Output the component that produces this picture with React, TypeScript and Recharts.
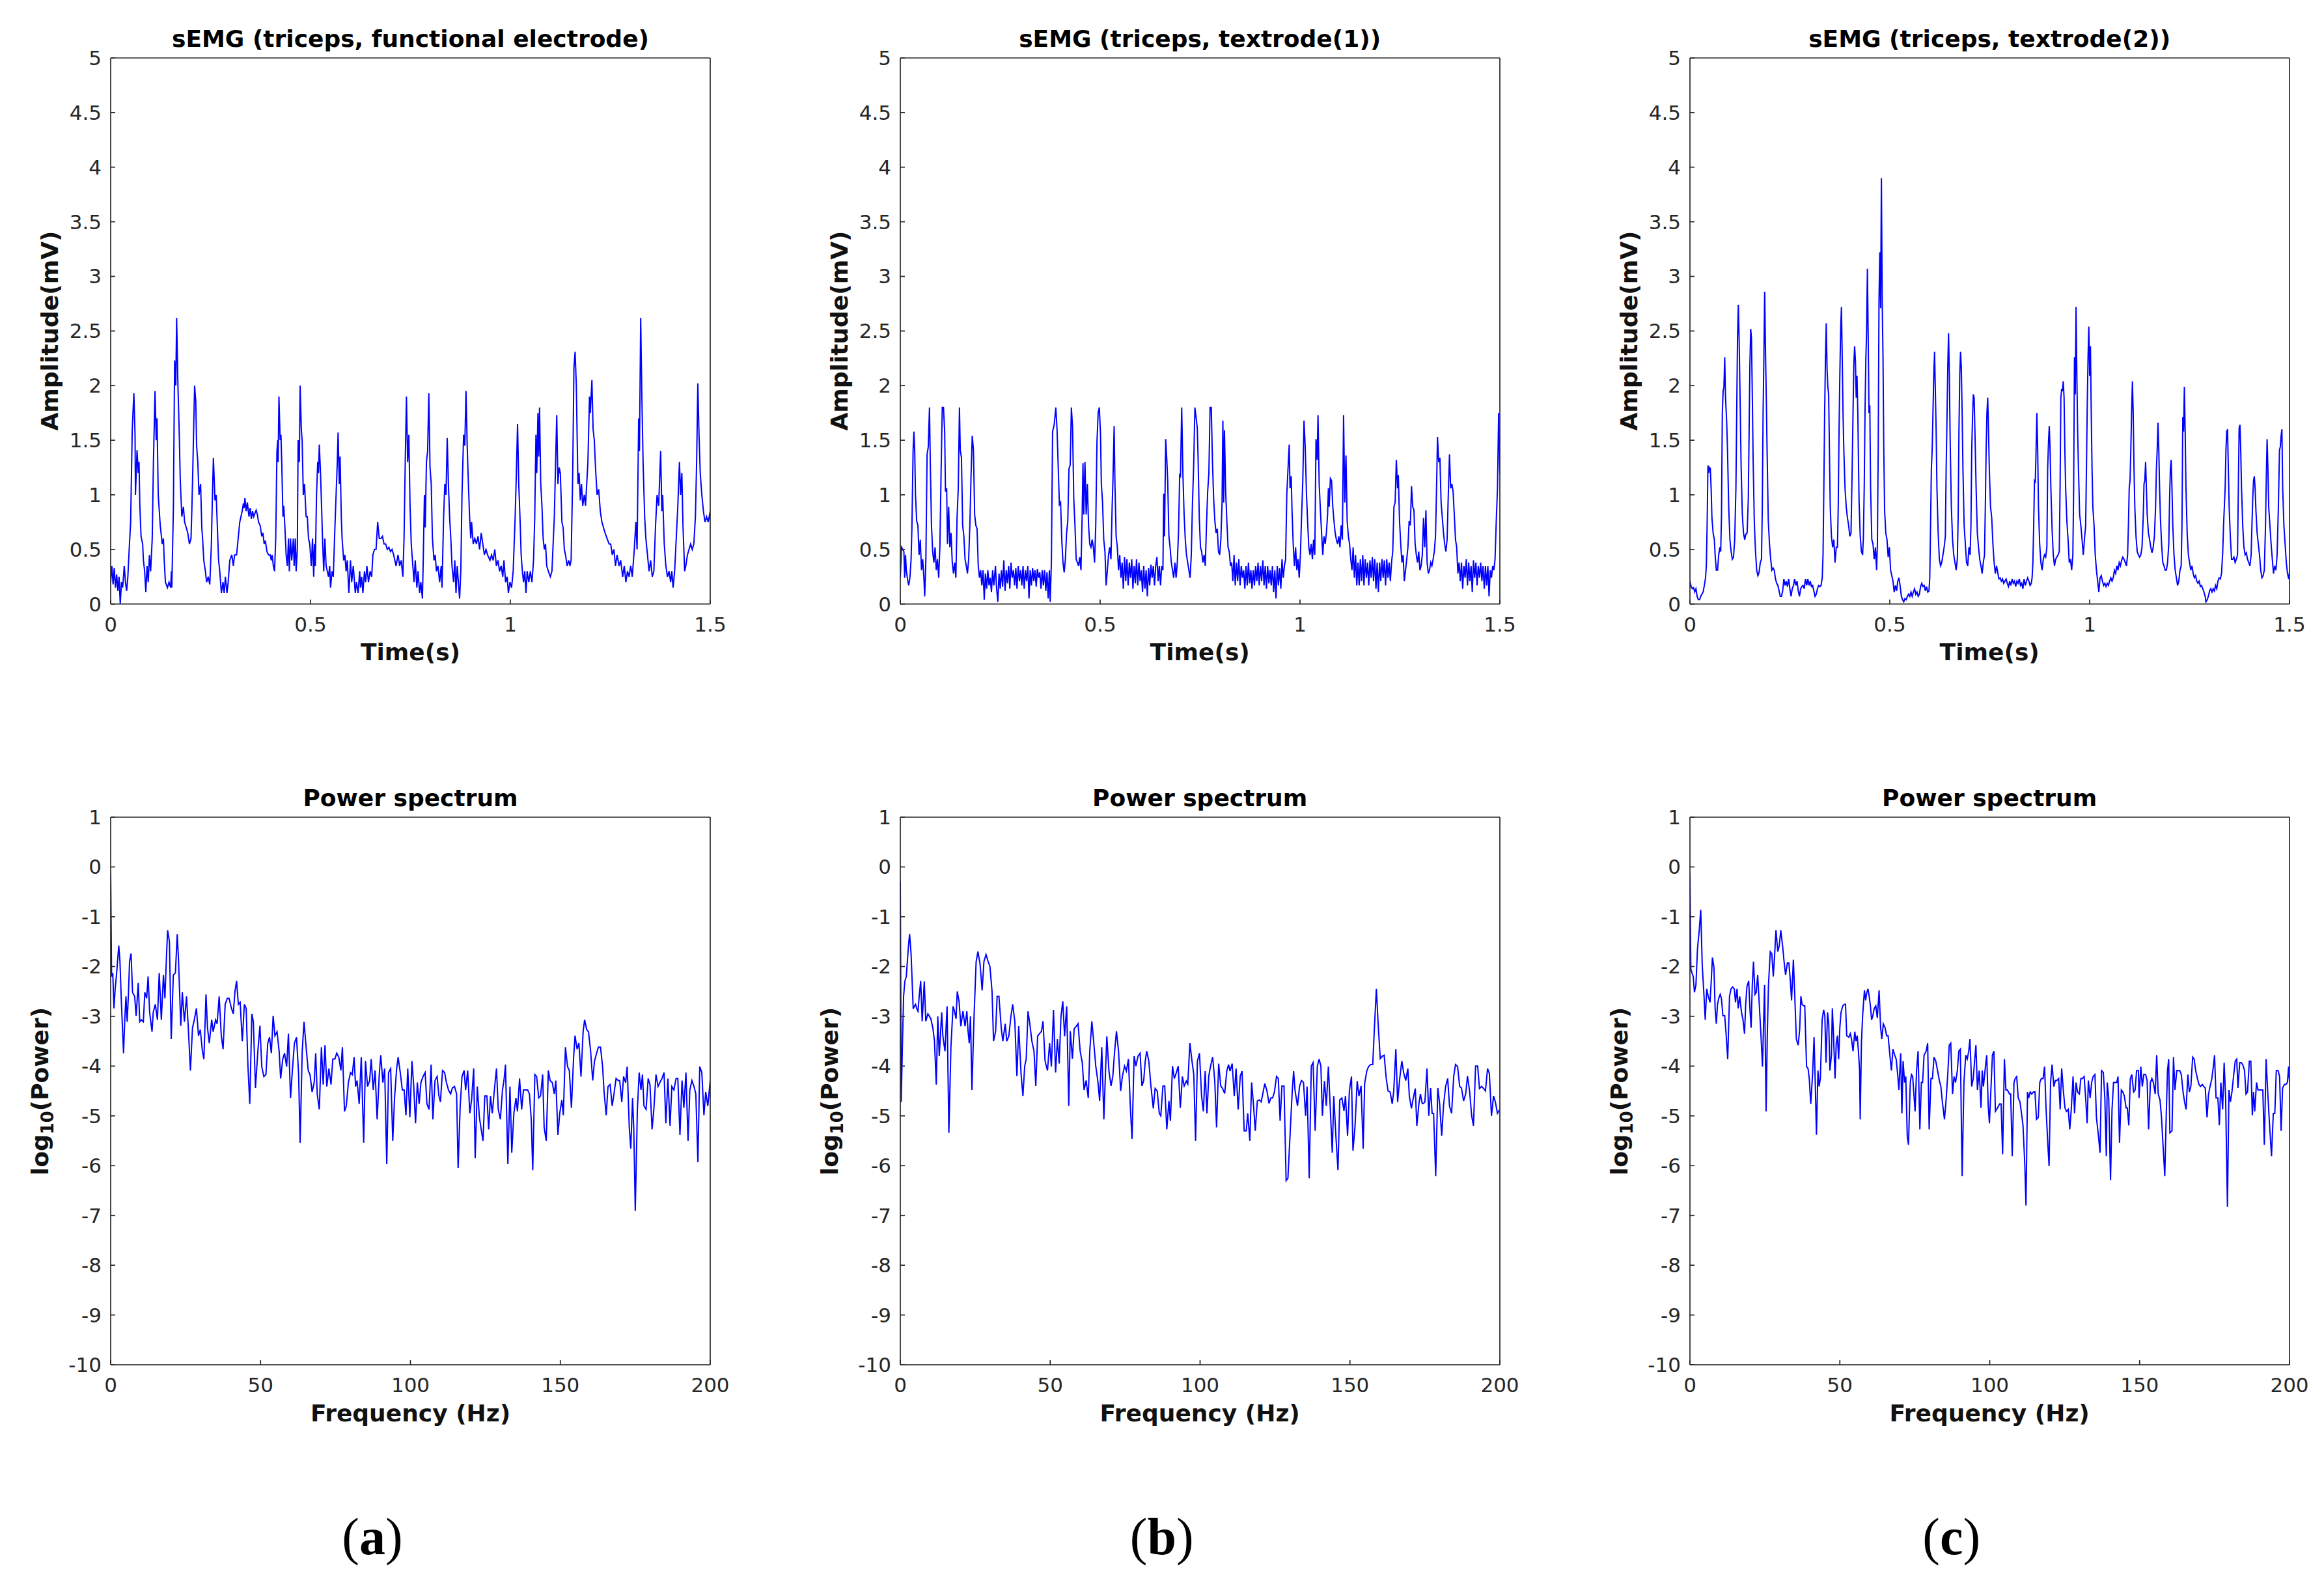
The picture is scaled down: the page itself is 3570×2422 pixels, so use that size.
import React from 'react';
import { LineChart, Line, XAxis, YAxis } from 'recharts';

// sEMG traces, [time (ms), amplitude (mV)]
const FE_EMG: [number, number][] = [
  [0,0.2],[3,0.35],[6,0.18],[9,0.33],[12,0.15],[15,0.27],[18,0.12],[21,0.25],[24,0],[27,0.2],[30,0.15],[34,0.35],[37,0.2],[40,0.12],[43,0.25],[47,0.55],[50,0.75],[54,1.6],[58,1.93],[61,1.55],[62,1.0],[66,1.41],[69,1.2],[71,1.3],[73,0.9],[76,0.62],[80,0.55],[82,0.4],[85,0.3],[88,0.11],[91,0.35],[94,0.2],[97,0.45],[100,0.3],
  [104,0.6],[107,1.3],[111,1.95],[114,1.5],[116,1.7],[119,1.0],[124,0.72],[129,0.55],[132,0.6],[134,0.4],[137,0.2],[142,0.15],[146,0.2],[150,0.15],[152,0.3],[153,0.15],[157,0.9],[160,2.23],[163,2.0],[165,2.62],[168,2.05],[172,1.5],[174,1.15],[178,0.8],[182,0.89],[185,0.75],[189,0.7],[193,0.65],[197,0.55],[201,0.6],
  [203,0.85],[205,1.15],[210,2.0],[213,1.85],[215,1.45],[218,1.3],[221,1.0],[225,1.1],[228,0.7],[230,0.6],[233,0.4],[237,0.3],[240,0.2],[244,0.25],[248,0.18],[252,0.55],[254,0.9],[257,1.34],[261,0.95],[264,1.0],[267,0.7],[270,0.4],[273,0.3],[277,0.1],[281,0.2],[284,0.1],[287,0.25],[291,0.1],[294,0.2],[298,0.4],
  [303,0.45],[307,0.35],[310,0.45],[315,0.45],[319,0.6],[323,0.75],[326,0.8],[329,0.85],[332,0.92],[334,0.88],[336,0.97],[339,0.85],[342,0.93],[346,0.8],[349,0.88],[352,0.78],[355,0.85],[358,0.8],[364,0.86],[367,0.82],[370,0.75],[374,0.72],[378,0.62],[381,0.65],[384,0.55],[387,0.58],[391,0.48],[395,0.45],[399,0.45],
  [402,0.4],[404,0.45],[407,0.35],[410,0.3],[413,0.6],[416,1.4],[418,1.5],[419,1.3],[421,1.9],[424,1.5],[426,1.55],[428,1.3],[431,0.8],[433,0.9],[436,0.7],[439,0.45],[442,0.35],[445,0.6],[447,0.3],[450,0.6],[453,0.4],[457,0.6],[459,0.35],[462,0.6],[464,0.3],[467,0.5],[469,1.5],[472,1.3],[474,2.0],[477,1.6],[479,1.5],
  [482,1.0],[485,1.1],[489,0.8],[492,0.8],[495,0.6],[498,0.55],[502,0.35],[505,0.6],[508,0.25],[510,0.55],[512,0.35],[515,1.0],[518,1.3],[520,1.2],[522,1.46],[525,1.2],[528,0.85],[530,0.6],[533,0.3],[536,0.6],[539,0.35],[545,0.25],[548,0.35],[550,0.15],[554,0.3],[557,0.25],[561,0.7],[564,1.0],[567,1.3],[569,1.57],
  [572,1.1],[574,1.35],[577,0.8],[579,0.6],[583,0.4],[586,0.45],[589,0.3],[592,0.4],[596,0.1],[600,0.4],[603,0.2],[607,0.35],[612,0.1],[615,0.2],[619,0.1],[623,0.3],[625,0.15],[628,0.25],[631,0.1],[635,0.3],[638,0.2],[641,0.35],[645,0.2],[649,0.3],[653,0.25],[656,0.45],[660,0.5],[664,0.5],[668,0.75],[672,0.6],
  [676,0.6],[680,0.62],[684,0.55],[688,0.55],[692,0.5],[696,0.52],[700,0.48],[704,0.5],[708,0.45],[714,0.35],[719,0.45],[723,0.35],[727,0.4],[731,0.25],[734,0.6],[737,1.3],[740,1.9],[743,1.3],[746,1.55],[749,0.9],[752,0.55],[755,0.4],[759,0.2],[762,0.4],[766,0.15],[769,0.3],[773,0.1],[776,0.2],[780,0.05],
  [782,0.4],[785,1.0],[787,0.7],[790,1.3],[793,1.4],[796,1.93],[799,1.25],[802,1.1],[805,0.6],[809,0.4],[812,0.45],[815,0.3],[819,0.35],[823,0.2],[827,0.35],[829,0.15],[833,0.8],[836,1.1],[839,1.0],[842,1.52],[845,1.1],[848,0.8],[851,0.6],[854,0.35],[858,0.2],[861,0.4],[864,0.1],[867,0.35],[873,0.05],[876,0.3],
  [879,1.0],[883,1.55],[886,1.45],[889,1.95],[892,1.45],[895,1.1],[898,0.8],[901,0.6],[903,0.75],[907,0.55],[911,0.6],[915,0.55],[919,0.62],[923,0.5],[927,0.65],[931,0.55],[935,0.45],[939,0.5],[943,0.45],[949,0.4],[953,0.45],[957,0.4],[961,0.5],[965,0.35],[969,0.4],[973,0.3],[977,0.35],[981,0.25],[984,0.4],
  [988,0.2],[992,0.25],[995,0.1],[999,0.2],[1003,0.15],[1007,0.3],[1012,0.8],[1015,1.2],[1018,1.65],[1021,1.1],[1024,0.8],[1027,0.45],[1030,0.3],[1033,0.2],[1036,0.3],[1039,0.1],[1042,0.3],[1046,0.2],[1050,0.3],[1054,0.2],[1058,0.4],[1061,0.8],[1064,1.55],[1066,1.2],[1069,1.75],[1071,1.35],[1073,1.8],[1076,1.1],
  [1079,0.9],[1082,0.6],[1085,0.5],[1088,0.55],[1091,0.35],[1095,0.3],[1100,0.25],[1104,0.3],[1110,0.8],[1116,1.73],[1119,1.1],[1122,1.25],[1125,1.2],[1129,0.75],[1132,0.7],[1135,0.5],[1138,0.45],[1142,0.35],[1146,0.4],[1149,0.35],[1152,0.4],[1156,1.2],[1159,2.16],[1162,2.31],[1165,2.0],[1169,1.1],[1172,1.2],
  [1175,0.95],[1178,1.1],[1181,0.9],[1185,1.0],[1188,0.9],[1191,1.1],[1194,1.3],[1198,1.9],[1200,1.75],[1204,2.05],[1207,1.6],[1210,1.5],[1213,1.25],[1217,1.0],[1221,1.05],[1225,0.85],[1229,0.75],[1233,0.7],[1237,0.65],[1242,0.6],[1247,0.55],[1251,0.55],[1255,0.45],[1259,0.5],[1263,0.35],[1267,0.45],[1272,0.35],
  [1276,0.4],[1281,0.25],[1285,0.35],[1289,0.2],[1293,0.3],[1297,0.25],[1301,0.35],[1305,0.25],[1310,0.5],[1314,0.75],[1317,0.5],[1321,1.7],[1323,1.4],[1326,2.62],[1329,1.9],[1332,1.3],[1336,0.8],[1339,0.6],[1343,0.45],[1347,0.3],[1351,0.4],[1355,0.25],[1359,0.3],[1363,0.7],[1367,1.0],[1371,0.9],[1376,1.4],
  [1379,0.85],[1381,1.0],[1385,0.55],[1389,0.35],[1393,0.25],[1397,0.3],[1401,0.2],[1404,0.3],[1407,0.15],[1411,0.3],[1415,0.6],[1419,0.9],[1423,1.3],[1426,1.0],[1429,1.2],[1432,0.7],[1436,0.3],[1439,0.35],[1443,0.45],[1447,0.5],[1451,0.55],[1455,0.5],[1459,0.55],[1463,0.8],[1466,1.3],[1469,2.02],[1472,1.55],
  [1475,1.2],[1479,1.0],[1483,0.85],[1487,0.75],[1491,0.8],[1495,0.75],[1500,0.85],
];

const TX1_EMG: [number, number][] = [
  [0,0.24],[3,0.52],[6,0.5],[9,0.48],[11,0.24],[13,0.45],[15,0.31],[18,0.23],[21,0.17],[24,0.24],[27,0.41],[29,0.69],[32,1.41],[34,1.58],[36,1.41],[38,1.0],[41,0.76],[44,0.72],[47,0.45],[50,0.59],[53,0.31],[56,0.41],[59,0.24],[61,0.07],[64,0.41],[67,1.37],[70,1.44],[73,1.8],[75,1.3],[78,0.72],[81,0.48],
  [84,0.38],[87,0.52],[90,0.31],[93,0.41],[96,0.24],[99,0.52],[102,1.2],[105,1.8],[108,1.8],[111,1.58],[113,1.03],[116,1.06],[118,0.55],[121,0.89],[124,0.52],[127,0.65],[130,0.38],[133,0.28],[136,0.38],[139,0.24],[142,0.79],[145,1.06],[148,1.8],[150,1.41],[153,1.34],[156,0.72],[159,0.62],[162,0.41],[165,0.35],
  [168,0.28],[171,0.41],[174,0.72],[177,1.18],[180,1.54],[183,1.41],[186,0.82],[189,0.72],[192,0.69],[195,0.35],[198,0.24],[201,0.31],[204,0.17],[207,0.31],[210,0.04],[213,0.28],[216,0.14],[219,0.31],[222,0.17],[225,0.24],[228,0.11],[231,0.31],[234,0.17],[238,0.35],[241,0.14],[244,0.02],[247,0.28],[250,0.14],
  [253,0.31],[256,0.16],[259,0.4],[262,0.12],[265,0.31],[268,0.19],[271,0.35],[274,0.14],[277,0.38],[280,0.24],[283,0.31],[286,0.17],[289,0.33],[292,0.14],[295,0.35],[298,0.21],[301,0.31],[304,0.17],[307,0.35],[310,0.14],[313,0.31],[316,0.21],[319,0.35],[322,0.05],[325,0.31],[328,0.17],[331,0.33],[334,0.21],
  [337,0.31],[340,0.16],[343,0.32],[346,0.24],[349,0.29],[352,0.14],[355,0.31],[358,0.17],[361,0.31],[364,0.12],[367,0.29],[370,0.05],[373,0.31],[375,0.02],[378,0.38],[381,1.58],[385,1.64],[389,1.8],[392,1.61],[395,1.27],[398,0.91],[401,0.93],[404,0.59],[407,0.38],[410,0.29],[413,0.41],[416,0.65],[419,0.76],
  [422,1.24],[425,1.27],[428,1.8],[431,1.61],[434,0.96],[437,0.72],[440,0.41],[443,0.38],[446,0.35],[449,0.43],[452,0.31],[455,0.82],[457,1.29],[459,0.82],[462,1.3],[465,0.82],[468,1.1],[471,0.72],[474,0.55],[477,0.52],[480,0.59],[483,0.52],[486,0.38],[489,0.72],[492,1.48],[495,1.75],[498,1.8],[501,1.54],
  [503,1.1],[506,0.93],[509,0.59],[512,0.48],[515,0.17],[518,0.31],[521,0.45],[524,0.52],[527,0.41],[530,0.89],[532,1.13],[535,1.63],[537,1.1],[540,0.62],[543,0.52],[546,0.31],[549,0.45],[552,0.24],[555,0.38],[558,0.14],[561,0.43],[564,0.21],[567,0.41],[570,0.17],[573,0.38],[576,0.24],[579,0.41],[582,0.14],
  [585,0.35],[588,0.19],[591,0.41],[594,0.17],[597,0.38],[600,0.21],[603,0.31],[606,0.11],[609,0.35],[612,0.14],[615,0.31],[618,0.07],[621,0.33],[624,0.17],[627,0.36],[630,0.24],[633,0.35],[636,0.17],[639,0.35],[642,0.43],[645,0.21],[648,0.35],[651,0.17],[654,0.35],[657,0.31],[659,1.01],[661,0.62],[664,1.51],
  [667,1.3],[669,1.13],[672,0.62],[675,0.52],[678,0.38],[681,0.31],[684,0.24],[687,0.38],[690,0.24],[693,0.38],[696,0.65],[699,1.18],[701,1.17],[704,1.8],[707,1.2],[710,0.82],[713,0.59],[716,0.45],[719,0.38],[722,0.31],[725,0.24],[728,0.45],[731,0.93],[734,1.27],[737,1.8],[740,1.71],[743,1.61],[745,1.34],
  [748,0.79],[751,0.52],[754,0.48],[757,0.38],[760,0.45],[763,0.35],[766,0.72],[769,1.03],[772,1.2],[775,1.8],[778,1.8],[781,1.3],[784,0.96],[787,0.76],[790,0.65],[793,0.69],[796,0.48],[799,0.45],[802,0.59],[805,0.93],[807,1.68],[809,0.93],[811,1.59],[814,1.03],[817,0.76],[820,0.52],[823,0.48],[826,0.35],
  [829,0.38],[832,0.21],[835,0.45],[838,0.17],[841,0.38],[844,0.21],[847,0.41],[850,0.17],[853,0.35],[856,0.24],[859,0.31],[862,0.14],[865,0.35],[868,0.17],[871,0.38],[874,0.19],[877,0.31],[880,0.14],[883,0.31],[886,0.17],[889,0.35],[892,0.21],[895,0.38],[898,0.17],[901,0.35],[904,0.21],[907,0.4],[910,0.17],
  [913,0.35],[916,0.14],[919,0.35],[922,0.19],[925,0.31],[928,0.17],[931,0.35],[934,0.11],[937,0.31],[940,0.05],[943,0.35],[946,0.17],[949,0.33],[952,0.14],[955,0.41],[958,0.24],[961,0.35],[964,0.41],[967,1.01],[970,1.24],[973,1.46],[975,1.06],[978,1.17],[980,0.86],[983,0.55],[986,0.35],[989,0.52],[992,0.31],
  [995,0.41],[998,0.24],[1001,0.45],[1004,0.81],[1007,1.13],[1010,1.68],[1013,1.44],[1016,1.03],[1019,0.76],[1022,0.52],[1025,0.45],[1028,0.55],[1031,0.41],[1034,0.59],[1037,0.45],[1040,1.51],[1043,1.32],[1045,1.73],[1048,1.1],[1051,0.86],[1054,0.65],[1057,0.45],[1060,0.62],[1063,0.55],[1066,0.65],
  [1069,0.82],[1071,1.06],[1073,0.89],[1076,1.15],[1079,1.13],[1082,0.89],[1085,0.76],[1088,0.65],[1091,0.59],[1094,0.55],[1097,0.62],[1100,0.52],[1103,0.72],[1106,0.59],[1109,1.73],[1112,0.93],[1115,1.36],[1118,0.76],[1121,0.62],[1124,0.55],[1127,0.41],[1130,0.31],[1133,0.52],[1136,0.24],[1139,0.45],
  [1142,0.17],[1145,0.38],[1148,0.17],[1151,0.41],[1154,0.21],[1157,0.45],[1160,0.17],[1163,0.41],[1166,0.24],[1169,0.38],[1172,0.17],[1175,0.4],[1178,0.24],[1181,0.43],[1184,0.21],[1187,0.41],[1190,0.14],[1193,0.38],[1196,0.11],[1199,0.38],[1202,0.21],[1205,0.41],[1208,0.24],[1211,0.4],[1214,0.17],
  [1217,0.41],[1220,0.24],[1223,0.38],[1226,0.21],[1229,0.38],[1232,0.48],[1235,0.89],[1238,0.93],[1241,1.32],[1244,1.06],[1246,1.18],[1249,0.76],[1252,0.55],[1255,0.38],[1258,0.45],[1261,0.21],[1264,0.31],[1267,0.41],[1270,0.52],[1273,0.76],[1276,0.72],[1279,1.08],[1282,0.89],[1285,0.86],[1288,0.55],
  [1291,0.45],[1294,0.38],[1297,0.48],[1300,0.31],[1303,0.35],[1306,0.45],[1309,0.79],[1312,0.52],[1315,0.86],[1318,0.38],[1321,0.28],[1324,0.31],[1327,0.38],[1330,0.35],[1333,0.41],[1336,0.48],[1339,0.62],[1342,1.13],[1344,1.53],[1347,1.3],[1350,1.34],[1353,0.93],[1356,0.79],[1359,0.65],[1362,0.55],
  [1365,0.48],[1368,0.59],[1371,1.0],[1374,1.37],[1377,1.06],[1380,1.1],[1383,1.03],[1386,0.82],[1389,0.59],[1392,0.52],[1395,0.28],[1398,0.38],[1401,0.21],[1404,0.38],[1407,0.14],[1410,0.35],[1413,0.24],[1416,0.41],[1419,0.17],[1422,0.38],[1425,0.21],[1428,0.35],[1431,0.11],[1434,0.4],[1437,0.24],
  [1440,0.38],[1443,0.17],[1446,0.35],[1449,0.24],[1452,0.38],[1455,0.21],[1458,0.35],[1461,0.14],[1464,0.35],[1467,0.17],[1470,0.35],[1473,0.07],[1476,0.31],[1479,0.24],[1482,0.35],[1485,0.31],[1488,0.41],[1491,0.76],[1494,1.05],[1497,1.75],[1500,1.2],
];

const TX2_EMG: [number, number][] = [
  [0,0.21],[3,0.16],[6,0.14],[9,0.15],[12,0.11],[15,0.14],[18,0.07],[21,0.04],[24,0.04],[27,0.07],[30,0.09],[33,0.11],[36,0.17],[39,0.24],[41,0.35],[43,0.72],[45,1.27],[47,1.2],[49,1.25],[51,1.24],[53,1.06],[55,0.79],[58,0.65],[61,0.59],[63,0.45],[66,0.31],[69,0.31],[72,0.45],[75,0.52],[77,0.48],
  [79,0.82],[81,1.75],[83,1.95],[85,1.99],[87,2.26],[89,1.89],[92,1.66],[94,1.41],[97,0.89],[100,0.59],[103,0.48],[106,0.41],[109,0.43],[112,0.59],[115,1.06],[117,1.75],[119,2.43],[121,2.74],[123,2.43],[125,1.99],[128,1.27],[131,0.82],[134,0.65],[137,0.59],[140,0.64],[143,0.65],[146,0.96],[148,1.58],
  [150,2.19],[152,2.52],[154,2.43],[156,1.92],[158,1.34],[161,0.76],[164,0.48],[167,0.31],[170,0.26],[173,0.29],[176,0.38],[179,0.41],[181,0.89],[183,1.75],[185,2.26],[187,2.86],[189,2.33],[191,1.89],[193,1.41],[196,0.76],[199,0.55],[202,0.41],[205,0.31],[208,0.33],[211,0.31],[214,0.23],[217,0.19],
  [220,0.17],[223,0.12],[226,0.07],[229,0.07],[232,0.12],[235,0.23],[238,0.17],[241,0.21],[244,0.16],[247,0.23],[250,0.14],[253,0.07],[256,0.14],[259,0.17],[262,0.23],[265,0.17],[268,0.21],[271,0.12],[274,0.07],[277,0.14],[280,0.16],[283,0.17],[286,0.14],[289,0.23],[292,0.17],[295,0.23],[298,0.17],
  [301,0.21],[304,0.16],[307,0.17],[310,0.12],[313,0.07],[316,0.09],[319,0.14],[322,0.17],[325,0.16],[328,0.17],[331,0.24],[333,0.45],[335,1.06],[337,1.75],[339,2.23],[341,2.57],[343,2.16],[345,1.99],[347,1.92],[349,1.41],[351,0.89],[354,0.62],[357,0.52],[360,0.59],[363,0.38],[366,0.52],[369,0.52],
  [371,0.89],[373,1.58],[375,2.09],[377,2.5],[379,2.72],[381,2.26],[383,1.75],[385,1.41],[388,1.06],[391,0.89],[394,0.79],[397,0.72],[400,0.62],[403,0.65],[405,1.06],[408,1.75],[410,2.19],[412,2.36],[414,2.23],[416,1.89],[418,2.09],[420,1.75],[423,0.96],[426,0.62],[429,0.48],[432,0.45],[434,0.62],
  [436,1.06],[438,1.75],[440,2.23],[442,2.5],[444,3.07],[446,2.43],[448,1.75],[450,1.82],[452,1.06],[455,0.59],[458,0.55],[461,0.41],[464,0.52],[467,0.31],[469,0.55],[471,1.41],[473,2.78],[475,3.22],[477,2.71],[479,3.9],[481,2.78],[483,2.26],[485,1.41],[487,0.86],[490,0.65],[493,0.59],[496,0.43],
  [499,0.52],[502,0.31],[505,0.26],[508,0.21],[511,0.11],[514,0.17],[517,0.12],[520,0.21],[523,0.24],[526,0.16],[529,0.07],[532,0.04],[535,0.02],[538,0.05],[541,0.04],[544,0.07],[547,0.09],[550,0.07],[553,0.11],[556,0.07],[559,0.11],[562,0.14],[565,0.09],[568,0.11],[571,0.07],[574,0.09],[577,0.16],
  [580,0.19],[583,0.16],[586,0.17],[589,0.12],[592,0.16],[595,0.11],[598,0.12],[600,0.24],[602,0.72],[604,1.24],[606,1.41],[608,1.75],[610,2.09],[612,2.31],[614,1.95],[616,1.58],[618,1.06],[621,0.65],[624,0.41],[627,0.35],[630,0.38],[633,0.45],[636,0.52],[639,0.62],[641,1.24],[643,1.68],[645,2.16],
  [647,2.48],[649,2.09],[651,1.51],[654,0.89],[657,0.59],[660,0.45],[663,0.38],[666,0.31],[669,0.41],[671,0.79],[673,1.58],[675,2.09],[677,2.31],[679,2.16],[681,1.75],[683,1.24],[686,0.72],[689,0.55],[692,0.38],[695,0.35],[698,0.52],[701,0.45],[703,0.72],[705,1.41],[707,1.71],[709,1.92],[711,1.89],
  [713,1.58],[716,1.06],[719,0.65],[722,0.52],[725,0.41],[728,0.35],[731,0.28],[734,0.38],[737,0.45],[739,0.89],[741,1.41],[743,1.75],[745,1.89],[747,1.58],[749,1.24],[752,0.89],[755,0.79],[758,0.55],[761,0.38],[764,0.28],[767,0.35],[770,0.29],[773,0.23],[776,0.24],[779,0.21],[782,0.23],[785,0.19],
  [788,0.21],[791,0.23],[794,0.19],[797,0.16],[800,0.21],[803,0.17],[806,0.23],[809,0.19],[812,0.21],[815,0.16],[818,0.21],[821,0.19],[824,0.23],[827,0.17],[830,0.19],[833,0.14],[836,0.23],[839,0.17],[842,0.21],[845,0.24],[848,0.21],[851,0.17],[854,0.19],[856,0.24],[858,0.38],[860,0.72],[862,1.13],
  [864,1.12],[866,1.41],[868,1.75],[870,1.41],[872,0.89],[875,0.55],[878,0.38],[881,0.31],[884,0.41],[887,0.45],[890,0.43],[893,0.52],[895,1.24],[897,1.48],[899,1.63],[901,1.41],[903,1.06],[906,0.69],[909,0.45],[912,0.35],[915,0.41],[918,0.43],[921,0.45],[924,0.48],[926,1.06],[928,1.89],[930,1.97],
  [932,1.95],[934,2.04],[936,1.89],[938,1.41],[940,1.06],[943,0.76],[946,0.59],[949,0.38],[952,0.41],[955,0.31],[958,0.45],[960,1.06],[962,2.26],[964,1.92],[966,2.72],[968,2.09],[970,1.58],[972,1.24],[975,0.82],[978,0.72],[981,0.59],[984,0.45],[987,0.59],[990,0.72],[992,1.24],[994,1.82],[996,2.26],
  [998,2.54],[1000,2.09],[1002,2.36],[1004,1.75],[1006,1.24],[1008,0.89],[1011,0.72],[1014,0.45],[1017,0.31],[1020,0.21],[1023,0.11],[1026,0.24],[1029,0.26],[1032,0.21],[1035,0.17],[1038,0.19],[1041,0.16],[1044,0.19],[1047,0.17],[1050,0.21],[1053,0.24],[1056,0.21],[1059,0.24],[1062,0.31],[1065,0.28],
  [1068,0.35],[1071,0.31],[1074,0.38],[1077,0.35],[1080,0.4],[1083,0.43],[1086,0.41],[1089,0.38],[1092,0.35],[1095,0.45],[1097,0.72],[1099,1.06],[1101,1.13],[1103,1.41],[1105,1.75],[1107,2.04],[1109,1.75],[1111,1.24],[1113,0.89],[1116,0.62],[1119,0.48],[1122,0.45],[1125,0.43],[1128,0.45],[1131,0.52],
  [1134,0.79],[1136,1.1],[1138,1.13],[1140,1.3],[1142,1.06],[1144,0.82],[1147,0.65],[1150,0.59],[1153,0.52],[1156,0.47],[1159,0.52],[1162,0.62],[1165,0.89],[1167,1.24],[1169,1.41],[1171,1.66],[1173,1.41],[1175,1.06],[1177,0.79],[1180,0.55],[1183,0.38],[1186,0.35],[1189,0.31],[1192,0.31],[1195,0.38],
  [1198,0.55],[1200,0.96],[1202,1.24],[1204,1.32],[1206,1.06],[1208,0.72],[1211,0.45],[1214,0.31],[1217,0.24],[1220,0.17],[1223,0.21],[1226,0.31],[1229,0.35],[1231,0.72],[1233,1.71],[1235,1.58],[1237,1.99],[1239,1.58],[1241,1.06],[1244,0.65],[1247,0.45],[1250,0.38],[1253,0.31],[1256,0.35],[1259,0.28],
  [1262,0.24],[1265,0.26],[1268,0.21],[1271,0.19],[1274,0.21],[1277,0.16],[1280,0.17],[1283,0.14],[1286,0.11],[1289,0.07],[1291,0.02],[1294,0.04],[1297,0.07],[1300,0.12],[1303,0.14],[1306,0.11],[1309,0.14],[1312,0.12],[1315,0.17],[1318,0.14],[1321,0.21],[1324,0.24],[1327,0.23],[1330,0.28],[1333,0.48],
  [1335,0.72],[1337,0.89],[1339,1.06],[1341,1.41],[1343,1.58],[1345,1.6],[1347,1.24],[1349,0.89],[1352,0.62],[1355,0.41],[1358,0.41],[1361,0.43],[1364,0.38],[1367,0.41],[1370,0.45],[1372,1.06],[1374,1.61],[1376,1.64],[1378,1.41],[1380,1.06],[1383,0.72],[1386,0.52],[1389,0.45],[1392,0.47],[1395,0.41],
  [1398,0.38],[1401,0.35],[1404,0.45],[1406,0.72],[1408,0.96],[1410,1.13],[1412,1.17],[1414,1.06],[1416,0.86],[1419,0.65],[1422,0.55],[1425,0.45],[1428,0.31],[1431,0.24],[1434,0.26],[1437,0.31],[1440,0.72],[1442,1.17],[1444,1.51],[1446,1.24],[1448,0.89],[1451,0.72],[1454,0.55],[1457,0.41],[1460,0.28],
  [1463,0.35],[1466,0.31],[1469,0.45],[1472,0.86],[1475,1.41],[1477,1.44],[1479,1.54],[1481,1.6],[1483,1.06],[1486,0.72],[1489,0.55],[1492,0.38],[1495,0.28],[1498,0.23],[1500,0.3],
];

// power spectra, [frequency (Hz), log10(power)]
const FE_PSD: [number, number][] = [
  [0,-0.09],[0.3,-2.2],[0.7,-2.13],[1.1,-2.84],[1.5,-2.45],[2.0,-2.13],[2.7,-1.58],[3.1,-1.9],[3.6,-2.76],[4.3,-3.74],[4.7,-3.07],[5.1,-2.6],[5.5,-3.11],[5.9,-2.6],[6.3,-1.9],[6.8,-1.74],[7.3,-2.52],[8.0,-2.6],[8.5,-2.99],[9.2,-2.33],[9.7,-3.11],[10.2,-3.07],[10.9,-3.11],[11.4,-2.52],[12.0,-2.64],[12.5,-2.2],
  [13.0,-2.92],[13.8,-3.31],[14.2,-2.92],[14.9,-2.76],[15.6,-3.07],[16.2,-2.13],[16.9,-3.07],[17.6,-2.17],[18.1,-2.64],[18.6,-1.82],[19.0,-1.27],[19.6,-1.5],[20.2,-3.46],[20.9,-2.17],[21.6,-2.13],[22.2,-1.35],[22.6,-1.82],[23.0,-2.52],[23.4,-3.19],[23.9,-2.52],[24.6,-3.11],[25.3,-2.6],[25.9,-3.23],
  [26.6,-4.09],[27.3,-3.23],[27.9,-3.07],[28.6,-2.84],[29.3,-3.39],[29.9,-3.27],[30.6,-3.7],[31.1,-3.86],[31.8,-2.56],[32.3,-3.23],[32.9,-3.54],[33.7,-3.07],[34.2,-3.31],[35.0,-3.07],[35.5,-3.15],[36.2,-2.6],[36.9,-3.39],[37.5,-3.66],[38.2,-2.76],[38.9,-2.64],[39.5,-2.64],[40.3,-2.84],[40.9,-2.95],
  [41.5,-2.48],[42.0,-2.29],[42.6,-2.76],[43.2,-2.72],[43.9,-3.5],[44.6,-2.76],[45.2,-2.84],[45.8,-4.01],[46.4,-4.76],[47.1,-2.95],[47.6,-3.11],[48.3,-4.44],[49.1,-3.7],[49.8,-3.19],[50.4,-4.01],[51.1,-4.21],[51.8,-4.17],[52.4,-3.54],[53.0,-3.42],[53.6,-3.74],[54.2,-2.99],[54.8,-3.39],[55.5,-3.31],
  [56.2,-3.7],[56.7,-4.25],[57.4,-3.86],[58.0,-3.74],[58.7,-4.01],[59.3,-3.35],[60.0,-4.64],[60.7,-4.01],[61.3,-3.54],[62.0,-3.42],[62.7,-4.17],[63.2,-5.54],[63.9,-3.7],[64.5,-3.11],[65.2,-3.62],[65.9,-4.09],[66.5,-4.17],[67.2,-4.52],[67.9,-4.33],[68.4,-3.74],[68.9,-4.56],[69.6,-4.87],[70.3,-3.62],
  [70.9,-4.37],[71.5,-3.58],[72.1,-4.41],[72.8,-4.05],[73.5,-4.37],[74.1,-3.86],[74.8,-3.86],[75.4,-3.74],[76.1,-3.82],[76.8,-4.09],[77.3,-3.62],[78.0,-4.91],[78.6,-4.8],[79.3,-4.33],[80.0,-4.13],[80.6,-4.17],[81.2,-3.82],[81.7,-4.41],[82.2,-4.29],[82.9,-4.76],[83.6,-3.82],[84.4,-5.54],[85.0,-3.9],
  [85.7,-4.41],[86.4,-4.29],[86.9,-3.86],[87.6,-4.48],[88.2,-4.09],[88.9,-5.07],[89.6,-4.17],[90.1,-3.78],[90.8,-4.33],[91.4,-4.05],[92.1,-5.97],[92.7,-4.13],[93.4,-4.05],[94.1,-5.5],[94.7,-4.64],[95.4,-4.05],[95.9,-3.82],[96.6,-4.13],[97.3,-4.48],[97.9,-4.48],[98.5,-4.99],[99.1,-4.05],[99.8,-5.03],
  [100.5,-3.9],[101.1,-4.41],[101.7,-5.15],[102.3,-4.33],[102.9,-4.76],[103.5,-4.33],[104.2,-4.21],[104.9,-4.13],[105.5,-4.76],[106.2,-4.87],[106.9,-3.97],[107.5,-5.07],[108.2,-4.29],[108.9,-4.21],[109.5,-4.6],[110.0,-4.72],[110.7,-4.09],[111.4,-4.13],[112.0,-4.33],[112.7,-4.48],[113.4,-4.56],
  [114.0,-4.44],[114.7,-4.41],[115.4,-4.56],[115.9,-6.05],[116.6,-4.8],[117.2,-4.21],[117.9,-4.09],[118.4,-4.48],[119.1,-4.09],[119.8,-4.95],[120.4,-4.68],[121.1,-4.05],[121.6,-5.85],[122.3,-4.41],[123.0,-5.03],[123.6,-5.27],[124.2,-5.5],[124.8,-4.6],[125.5,-4.6],[126.1,-5.27],[126.7,-4.6],
  [127.3,-4.95],[128.0,-4.48],[128.7,-4.05],[129.3,-4.87],[130.0,-5.07],[130.7,-4.48],[131.2,-4.29],[131.7,-3.97],[132.5,-5.97],[133.2,-4.41],[133.8,-5.74],[134.5,-4.95],[135.2,-4.64],[135.7,-4.91],[136.4,-4.25],[137.1,-4.87],[137.7,-4.48],[138.4,-4.48],[139.1,-4.48],[139.7,-4.56],[140.3,-5.07],
  [140.8,-6.09],[141.5,-4.17],[142.1,-4.21],[142.8,-4.64],[143.4,-4.6],[144.1,-4.17],[144.6,-5.23],[145.3,-5.5],[146.0,-4.09],[146.6,-4.29],[147.3,-4.33],[148.0,-4.56],[148.5,-4.29],[149.2,-5.38],[149.8,-4.95],[150.5,-4.68],[151.0,-4.99],[151.7,-3.62],[152.4,-4.01],[153.0,-4.09],[153.7,-4.84],
  [154.4,-3.86],[154.9,-3.39],[155.6,-3.66],[156.2,-3.54],[156.9,-4.21],[157.6,-3.31],[158.1,-3.07],[158.8,-3.27],[159.4,-3.31],[160.1,-3.7],[160.8,-4.29],[161.4,-3.9],[162.1,-3.74],[162.7,-3.62],[163.4,-3.62],[164.1,-4.01],[164.6,-4.52],[165.3,-4.99],[165.9,-4.41],[166.6,-4.37],[167.3,-4.8],
  [167.9,-4.56],[168.6,-4.25],[169.3,-4.29],[169.8,-4.29],[170.5,-4.72],[171.1,-4.21],[171.8,-4.33],[172.3,-4.01],[173.0,-5.23],[173.5,-5.66],[174.1,-4.64],[174.5,-5.27],[175.0,-6.91],[175.7,-4.87],[176.3,-4.13],[176.9,-4.48],[177.4,-4.17],[177.9,-4.8],[178.6,-4.87],[179.3,-4.25],[179.9,-4.37],
  [180.6,-5.27],[181.2,-4.87],[181.9,-4.17],[182.6,-4.41],[183.2,-4.33],[183.9,-4.25],[184.6,-4.13],[185.2,-5.15],[185.9,-4.25],[186.6,-5.2],[187.2,-4.41],[187.9,-4.48],[188.6,-4.25],[189.2,-4.25],[189.9,-5.38],[190.6,-4.29],[191.2,-4.84],[191.9,-4.13],[192.6,-5.5],[193.2,-4.48],[193.9,-4.29],
  [194.6,-4.41],[195.2,-4.56],[195.9,-5.93],[196.5,-4.01],[197.2,-4.13],[197.9,-4.99],[198.5,-4.52],[199.2,-4.8],[200,-4.29],
];

const TX1_PSD: [number, number][] = [
  [0,-0.29],[0.3,-4.72],[0.7,-3.6],[1.1,-2.6],[1.5,-2.3],[2.0,-2.2],[2.7,-1.6],[3.1,-1.35],[3.6,-1.75],[4.3,-2.85],[4.7,-2.8],[5.1,-2.76],[5.5,-2.85],[5.9,-2.9],[6.3,-2.6],[6.8,-2.29],[7.3,-3.1],[8.0,-2.3],[8.5,-3.1],[9.2,-2.95],[9.7,-3.0],[10.2,-3.05],[10.9,-3.25],[11.4,-3.5],[12.0,-4.37],
  [12.5,-3.0],[13.0,-3.8],[13.8,-2.92],[14.2,-3.4],[14.9,-3.7],[15.6,-2.8],[16.2,-5.34],[16.9,-3.6],[17.6,-2.8],[18.1,-2.9],[18.6,-3.05],[19.0,-2.5],[19.6,-2.7],[20.2,-3.2],[20.9,-2.9],[21.6,-3.2],[22.2,-2.9],[22.6,-3.3],[23.0,-3.54],[23.4,-3.0],[23.9,-4.48],[24.6,-3.0],[25.3,-1.9],[25.9,-1.7],
  [26.6,-1.95],[27.3,-2.48],[27.9,-1.9],[28.6,-1.76],[29.3,-1.9],[29.9,-2.0],[30.6,-2.5],[31.1,-3.5],[31.8,-3.3],[32.3,-2.6],[32.9,-2.6],[33.7,-3.25],[34.2,-3.5],[35.0,-3.15],[35.5,-3.5],[36.2,-3.4],[36.9,-3.0],[37.5,-2.76],[38.2,-3.1],[38.9,-4.2],[39.5,-3.2],[40.3,-4.17],[40.9,-4.6],[41.5,-4.0],
  [42.0,-3.86],[42.6,-2.9],[43.2,-3.15],[43.9,-3.5],[44.6,-3.7],[45.2,-4.4],[45.8,-3.4],[46.4,-3.35],[47.1,-3.3],[47.6,-3.1],[48.3,-3.9],[49.1,-4.09],[49.8,-3.54],[50.4,-4.01],[51.1,-2.87],[51.8,-4.13],[52.4,-3.46],[53.0,-3.95],[53.6,-3.0],[54.2,-2.7],[54.8,-3.4],[55.5,-2.8],[56.2,-4.8],[56.7,-3.3],
  [57.4,-3.85],[58.0,-3.25],[58.7,-3.2],[59.3,-3.15],[60.0,-3.7],[60.7,-3.93],[61.3,-4.48],[62.0,-4.29],[62.7,-4.64],[63.2,-3.7],[63.9,-3.1],[64.5,-3.5],[65.2,-4.0],[65.9,-4.3],[66.5,-4.7],[67.2,-3.62],[67.9,-5.07],[68.4,-4.2],[68.9,-3.4],[69.6,-4.1],[70.3,-4.4],[70.9,-4.2],[71.5,-3.7],[72.1,-3.3],
  [72.8,-3.7],[73.5,-4.5],[74.1,-4.2],[74.8,-4.0],[75.4,-4.1],[76.1,-3.86],[76.8,-4.91],[77.3,-5.46],[78.0,-3.8],[78.6,-4.0],[79.3,-3.8],[80.0,-3.74],[80.6,-4.4],[81.2,-4.29],[81.7,-3.9],[82.2,-3.7],[82.9,-3.9],[83.6,-4.4],[84.4,-4.85],[85.0,-4.45],[85.7,-4.5],[86.4,-4.95],[86.9,-5.0],[87.6,-4.4],
  [88.2,-4.4],[88.9,-5.27],[89.6,-4.7],[90.1,-5.1],[90.8,-4.0],[91.4,-4.25],[92.1,-4.13],[92.7,-4.0],[93.4,-4.84],[94.1,-4.21],[94.7,-4.4],[95.4,-4.3],[95.9,-4.36],[96.6,-3.54],[97.3,-3.9],[97.9,-4.17],[98.5,-5.5],[99.1,-3.9],[99.8,-3.74],[100.5,-4.6],[101.1,-4.91],[101.7,-4.1],[102.3,-4.95],
  [102.9,-4.2],[103.5,-4.0],[104.2,-3.82],[104.9,-4.3],[105.5,-5.23],[106.2,-3.95],[106.9,-4.4],[107.5,-4.45],[108.2,-4.55],[108.9,-4.1],[109.5,-3.97],[110.0,-4.1],[110.7,-3.95],[111.4,-4.6],[112.0,-4.05],[112.7,-4.87],[113.4,-4.2],[114.0,-4.1],[114.7,-5.3],[115.4,-5.3],[115.9,-4.95],[116.6,-5.5],
  [117.2,-4.33],[117.9,-4.84],[118.4,-5.3],[119.1,-4.7],[119.8,-4.68],[120.4,-4.72],[121.1,-4.5],[121.6,-4.35],[122.3,-4.5],[123.0,-4.75],[123.6,-4.64],[124.2,-4.64],[124.8,-4.52],[125.5,-4.21],[126.1,-4.25],[126.7,-5.1],[127.3,-4.4],[128.0,-4.4],[128.7,-6.3],[129.3,-6.25],[130.0,-5.4],[130.7,-4.55],
  [131.2,-4.1],[131.7,-4.5],[132.5,-4.8],[133.2,-4.4],[133.8,-4.29],[134.5,-4.33],[135.2,-5.0],[135.7,-4.41],[136.4,-6.25],[137.1,-4.0],[137.7,-3.93],[138.4,-5.3],[139.1,-4.01],[139.7,-3.86],[140.3,-4.0],[140.8,-5.0],[141.5,-4.3],[142.1,-4.8],[142.8,-4.01],[143.4,-4.8],[144.1,-5.74],[144.6,-4.6],
  [145.3,-5.4],[146.0,-6.09],[146.6,-4.68],[147.3,-4.64],[148.0,-4.9],[148.5,-4.6],[149.2,-5.4],[149.8,-4.5],[150.5,-4.21],[151.0,-5.7],[151.7,-5.2],[152.4,-4.3],[153.0,-4.6],[153.7,-4.4],[154.4,-5.66],[154.9,-4.35],[155.6,-4.1],[156.2,-4.01],[156.9,-3.97],[157.6,-3.97],[158.1,-3.3],[158.8,-2.45],
  [159.4,-3.15],[160.1,-3.85],[160.8,-3.8],[161.4,-3.78],[162.1,-4.25],[162.7,-4.5],[163.4,-4.52],[164.1,-4.76],[164.6,-4.5],[165.3,-3.66],[165.9,-4.72],[166.6,-4.25],[167.3,-3.9],[167.9,-4.13],[168.6,-4.29],[169.3,-4.05],[169.8,-4.6],[170.5,-4.85],[171.1,-4.65],[171.8,-4.45],[172.3,-5.2],[173.0,-4.76],
  [173.5,-4.56],[174.1,-4.75],[174.5,-4.75],[175.0,-4.72],[175.7,-4.05],[176.3,-5.0],[176.9,-4.44],[177.4,-4.95],[177.9,-4.95],[178.6,-6.21],[179.3,-4.44],[179.9,-4.75],[180.6,-5.4],[181.2,-4.8],[181.9,-4.41],[182.6,-4.25],[183.2,-4.8],[183.9,-4.95],[184.6,-4.21],[185.2,-3.97],[185.9,-4.01],
  [186.6,-4.41],[187.2,-4.44],[187.9,-4.7],[188.6,-4.56],[189.2,-4.2],[189.9,-4.5],[190.6,-5.0],[191.2,-5.2],[191.9,-4.0],[192.6,-4.0],[193.2,-4.45],[193.9,-4.41],[194.6,-4.45],[195.2,-4.5],[195.9,-4.05],[196.5,-4.15],[197.2,-5.0],[197.9,-4.6],[198.5,-4.72],[199.2,-4.95],[200,-4.87],
];

const TX2_PSD: [number, number][] = [
  [0,-0.13],[0.3,-2.05],[0.7,-2.13],[1.1,-2.2],[1.5,-2.52],[2.0,-2.37],[2.5,-1.66],[3.1,-1.27],[3.6,-0.86],[4.1,-1.97],[4.7,-2.6],[5.1,-3.07],[5.6,-2.45],[6.1,-2.6],[6.7,-2.72],[7.1,-2.29],[7.5,-1.82],[8.0,-2.01],[8.4,-2.84],[8.8,-3.15],[9.2,-2.76],[9.6,-2.64],[10.1,-2.56],[10.5,-2.64],[11.0,-2.99],
  [11.6,-2.99],[12.1,-3.39],[12.6,-3.86],[13.2,-2.6],[13.7,-2.45],[14.2,-2.41],[14.8,-2.45],[15.2,-2.72],[15.7,-2.45],[16.1,-2.84],[16.6,-2.6],[17.2,-2.92],[17.7,-3.07],[18.2,-3.35],[18.6,-2.76],[19.0,-2.41],[19.6,-2.29],[20.0,-2.84],[20.4,-3.23],[20.8,-2.37],[21.2,-1.9],[21.7,-2.56],[22.1,-2.52],
  [22.6,-2.17],[23.2,-2.84],[23.7,-3.39],[24.2,-4.01],[24.9,-2.37],[25.4,-4.91],[25.8,-3.39],[26.2,-2.37],[26.8,-1.7],[27.3,-1.74],[27.8,-2.2],[28.2,-1.82],[28.7,-1.27],[29.3,-1.7],[29.8,-1.58],[30.3,-1.27],[30.9,-1.58],[31.4,-1.9],[31.9,-2.17],[32.5,-1.93],[33.0,-1.93],[33.5,-2.29],[33.9,-2.68],
  [34.5,-1.86],[35.0,-2.64],[35.5,-3.46],[36.1,-3.58],[36.6,-3.27],[37.0,-2.6],[37.4,-2.76],[37.9,-2.79],[38.3,-2.79],[38.9,-4.01],[39.4,-4.05],[39.8,-4.25],[40.3,-4.76],[40.9,-4.17],[41.4,-3.42],[41.8,-4.33],[42.2,-5.38],[42.7,-4.09],[43.1,-4.41],[43.5,-4.25],[44.1,-3.07],[44.6,-2.87],[45.0,-2.99],
  [45.4,-3.93],[45.9,-2.92],[46.3,-3.15],[46.7,-4.09],[47.2,-3.78],[47.5,-2.84],[47.9,-3.39],[48.4,-4.25],[48.8,-3.54],[49.2,-3.39],[49.6,-3.86],[50.0,-3.23],[50.4,-2.92],[51.0,-2.79],[51.5,-2.76],[51.9,-2.76],[52.3,-3.39],[53.0,-3.42],[53.5,-3.35],[53.9,-3.46],[54.4,-3.7],[55.0,-3.31],[55.4,-3.5],
  [55.8,-3.39],[56.2,-3.7],[56.6,-4.09],[56.8,-5.07],[57.2,-3.54],[57.6,-2.99],[58.2,-2.48],[58.6,-2.68],[59.0,-2.52],[59.4,-2.45],[59.8,-2.6],[60.2,-2.79],[60.6,-3.07],[61.0,-2.99],[61.5,-2.84],[62.0,-2.79],[62.5,-3.03],[63.1,-2.48],[63.6,-3.23],[64.0,-3.46],[64.5,-3.15],[65.1,-3.23],[65.6,-3.39],
  [66.1,-3.39],[66.7,-3.78],[67.2,-4.09],[67.7,-3.66],[68.3,-3.78],[68.8,-3.86],[69.3,-4.17],[69.7,-4.48],[70.3,-3.74],[70.7,-4.95],[71.1,-3.9],[71.6,-4.33],[72.0,-4.21],[72.5,-5.42],[72.9,-5.58],[73.5,-4.33],[73.9,-4.17],[74.3,-4.21],[74.7,-4.56],[75.1,-4.91],[75.6,-4.09],[76.1,-3.7],[76.7,-5.27],
  [77.2,-4.33],[77.6,-4.33],[78.1,-3.78],[78.8,-3.7],[79.3,-3.54],[79.8,-5.27],[80.4,-4.25],[80.9,-4.25],[81.4,-3.82],[82.0,-3.9],[82.6,-4.09],[83.2,-4.29],[83.7,-4.41],[84.2,-4.72],[84.9,-5.07],[85.4,-4.72],[86.0,-4.17],[86.5,-3.58],[87.0,-3.54],[87.6,-4.56],[88.1,-4.21],[88.6,-4.33],[89.2,-4.09],
  [89.7,-3.7],[90.2,-3.66],[90.8,-6.21],[91.4,-4.33],[92.0,-3.78],[92.5,-3.86],[93.0,-3.7],[93.4,-3.46],[94.0,-4.41],[94.5,-4.25],[95.0,-3.86],[95.4,-3.58],[95.9,-4.48],[96.5,-4.09],[97.1,-4.84],[97.5,-4.09],[97.9,-4.41],[98.5,-4.05],[99.0,-3.78],[99.5,-4.8],[99.9,-5.15],[100.5,-4.33],[100.9,-3.78],
  [101.4,-3.7],[101.9,-4.91],[102.6,-4.84],[103.3,-4.76],[103.8,-4.76],[104.3,-5.77],[104.9,-3.86],[105.4,-4.48],[105.9,-4.48],[106.6,-4.56],[107.0,-4.56],[107.5,-5.81],[108.1,-4.33],[108.5,-4.25],[109.0,-4.21],[109.5,-4.64],[110.1,-4.72],[110.6,-4.95],[111.1,-5.19],[111.7,-5.97],[112.1,-6.8],
  [112.6,-4.52],[113.0,-4.64],[113.5,-4.52],[114.0,-4.56],[114.6,-4.52],[115.1,-4.52],[115.6,-5.07],[116.2,-5.03],[116.7,-4.33],[117.2,-4.25],[117.8,-4.25],[118.3,-4.01],[118.8,-4.87],[119.4,-5.58],[119.8,-6.01],[120.3,-4.33],[120.8,-3.97],[121.4,-4.41],[121.9,-4.29],[122.4,-4.29],[123.0,-4.25],
  [123.5,-4.87],[124.0,-4.05],[124.6,-4.52],[125.1,-4.84],[125.6,-4.91],[126.2,-4.87],[126.7,-5.27],[127.2,-4.87],[127.8,-4.21],[128.3,-4.95],[128.8,-4.33],[129.3,-4.52],[129.9,-4.56],[130.4,-4.25],[130.9,-4.25],[131.5,-4.21],[132.0,-4.64],[132.5,-5.15],[132.9,-4.29],[133.5,-4.64],[134.0,-4.33],
  [134.5,-4.21],[135.1,-4.17],[135.6,-5.03],[136.3,-5.42],[136.8,-5.74],[137.3,-4.09],[137.9,-4.13],[138.4,-4.64],[138.9,-5.81],[139.2,-4.33],[139.7,-4.64],[140.3,-6.29],[140.8,-4.87],[141.3,-4.33],[141.9,-4.33],[142.4,-4.33],[142.8,-4.21],[143.3,-5.54],[143.9,-4.48],[144.4,-4.52],[144.9,-4.6],
  [145.5,-4.84],[145.9,-4.84],[146.4,-5.19],[146.9,-4.25],[147.4,-4.17],[148.0,-4.52],[148.5,-4.48],[149.0,-4.09],[149.6,-4.09],[149.8,-4.64],[150.4,-4.01],[150.9,-4.41],[151.4,-4.17],[152.0,-4.17],[152.5,-4.29],[153.0,-5.27],[153.6,-4.33],[154.1,-4.25],[154.6,-4.33],[155.2,-4.56],[155.7,-3.78],
  [156.2,-4.56],[156.8,-4.68],[157.3,-5.03],[157.8,-5.58],[158.4,-6.21],[158.9,-4.95],[159.3,-4.09],[159.7,-3.86],[160.1,-5.34],[160.8,-5.3],[161.3,-3.82],[161.8,-4.48],[162.4,-4.09],[162.9,-4.09],[163.4,-4.09],[163.9,-4.17],[164.5,-4.52],[165.0,-4.72],[165.5,-4.87],[166.1,-4.17],[166.6,-4.52],
  [167.1,-4.41],[167.7,-3.82],[168.2,-3.86],[168.7,-4.09],[169.3,-4.25],[169.8,-4.37],[170.3,-4.41],[170.9,-4.37],[171.4,-4.41],[171.9,-4.44],[172.5,-5.03],[173.0,-4.56],[173.5,-4.41],[174.1,-4.25],[174.6,-4.01],[175.0,-3.78],[175.5,-4.64],[176.1,-4.64],[176.6,-5.19],[177.1,-4.33],[177.7,-4.87],
  [178.2,-3.93],[178.7,-4.64],[179.3,-6.83],[179.8,-4.48],[180.3,-4.72],[180.8,-4.52],[181.4,-4.17],[181.9,-3.9],[182.4,-3.86],[182.8,-4.44],[183.4,-3.93],[183.9,-3.93],[184.4,-3.97],[185.0,-4.09],[185.5,-4.56],[186.0,-4.52],[186.6,-3.9],[187.1,-3.9],[187.6,-4.99],[188.0,-4.52],[188.4,-4.91],
  [189.0,-4.33],[189.5,-4.48],[190.0,-4.48],[190.6,-4.48],[191.1,-4.48],[191.6,-5.58],[192.2,-3.86],[192.7,-4.48],[193.2,-5.03],[194.0,-5.81],[194.6,-4.95],[195.1,-4.95],[195.6,-4.09],[196.2,-4.09],[196.7,-4.21],[197.2,-5.3],[197.7,-4.44],[198.3,-4.37],[198.8,-4.37],[199.3,-4.33],[199.7,-4.01],[200,-4.33],
];

const TIME_TICKS = [0, 0.5, 1, 1.5];
const AMP_TICKS = [0, 0.5, 1, 1.5, 2, 2.5, 3, 3.5, 4, 4.5, 5];
const FREQ_TICKS = [0, 50, 100, 150, 200];
const POWER_TICKS = [1, 0, -1, -2, -3, -4, -5, -6, -7, -8, -9, -10];

const EMG_TITLES = [
  'sEMG (triceps, functional electrode)',
  'sEMG (triceps, textrode(1))',
  'sEMG (triceps, textrode(2))',
];
const PANEL_LETTERS = ['a', 'b', 'c'];

const INK = '#262626';
const BLUE = '#0000ff';
const FONT = '"DejaVu Sans", Verdana, sans-serif';

// plot-area geometry on the 3570x2422 page
const COL_X = [170, 1382.7, 2595.7];
const PLOT_W = 921;
const ROW_TOP = { y: 88.7, h: 838.7 };
const ROW_BOT = { y: 1255.2, h: 841.1 };
const PAD_L = 150;
const PAD_T = 70;
const CHART_W = 1110;
const CHART_H = 1040;
const X_AXIS_H = 80;
const Y_AXIS_W = 100;
const EDGE = 1; // top/right axes need a non-zero size or recharts skips them
const TICK = -7; // negative: ticks point into the box, MATLAB style

const toEmgRows = (pts: [number, number][]) => pts.map(([ms, mv]) => ({ x: ms / 1000, y: mv }));
const toPsdRows = (pts: [number, number][]) => pts.map(([hz, p]) => ({ x: hz, y: p }));

const EMG_ROWS = [toEmgRows(FE_EMG), toEmgRows(TX1_EMG), toEmgRows(TX2_EMG)];
const PSD_ROWS = [toPsdRows(FE_PSD), toPsdRows(TX1_PSD), toPsdRows(TX2_PSD)];

const labelStyle: React.CSSProperties = {
  position: 'absolute',
  fontFamily: FONT,
  fontWeight: 'bold',
  fontSize: 36,
  lineHeight: 1,
  whiteSpace: 'nowrap',
  color: '#111',
};

interface PanelProps {
  rows: { x: number; y: number }[];
  left: number;
  top: number;
  plotH: number;
  xDomain: [number, number];
  xTicks: number[];
  yDomain: [number, number];
  yTicks: number[];
  title: string;
  xLabel: string;
  yLabel: React.ReactNode;
  yLabelGap: number;
}

const Panel = ({ rows, left, top, plotH, xDomain, xTicks, yDomain, yTicks, title, xLabel, yLabel, yLabelGap }: PanelProps) => {
  const frame = { stroke: INK, strokeWidth: 1.7 };
  const tickText = { fill: INK, fontSize: 31, fontFamily: FONT };
  const margin = {
    top: PAD_T - EDGE,
    left: PAD_L - Y_AXIS_W,
    right: CHART_W - PAD_L - PLOT_W - EDGE,
    bottom: CHART_H - PAD_T - plotH - X_AXIS_H,
  };
  const cx = PAD_L + PLOT_W / 2;
  return (
    <div style={{ position: 'absolute', left: left - PAD_L, top: top - PAD_T, width: CHART_W, height: CHART_H }}>
      <LineChart width={CHART_W} height={CHART_H} data={rows} margin={margin}>
        <XAxis dataKey="x" type="number" domain={xDomain} ticks={xTicks} interval={0} allowDataOverflow
          height={X_AXIS_H} tickSize={TICK} tickMargin={27} axisLine={frame} tickLine={frame} tick={tickText} />
        <XAxis xAxisId="top" dataKey="x" orientation="top" type="number" domain={xDomain} ticks={xTicks} interval={0}
          allowDataOverflow height={EDGE} tickSize={TICK} axisLine={frame} tickLine={frame} tick={false} />
        <YAxis type="number" domain={yDomain} ticks={yTicks} interval={0} allowDataOverflow
          width={Y_AXIS_W} tickSize={TICK} tickMargin={21} axisLine={frame} tickLine={frame} tick={tickText} />
        <YAxis yAxisId="right" orientation="right" type="number" domain={yDomain} ticks={yTicks} interval={0}
          allowDataOverflow width={EDGE} tickSize={TICK} axisLine={frame} tickLine={frame} tick={false} />
        {/* invisible copy bound to the top/right axes so the box closes on all four sides */}
        <Line xAxisId="top" yAxisId="right" dataKey="y" stroke="transparent" dot={false} activeDot={false}
          legendType="none" isAnimationActive={false} />
        <Line dataKey="y" stroke={BLUE} strokeWidth={2} dot={false} isAnimationActive={false} />
      </LineChart>
      <div style={{ ...labelStyle, color: '#000', left: cx, top: PAD_T - 29, transform: 'translate(-50%, -50%)' }}>{title}</div>
      <div style={{ ...labelStyle, left: cx, top: PAD_T + plotH + 75, transform: 'translate(-50%, -50%)' }}>{xLabel}</div>
      <div style={{ ...labelStyle, left: PAD_L - yLabelGap, top: PAD_T + plotH / 2, transform: 'translate(-50%, -50%) rotate(-90deg)' }}>{yLabel}</div>
    </div>
  );
};

const logPowerLabel = (
  <span>
    log<span style={{ fontSize: '0.72em', position: 'relative', top: '0.3em' }}>10</span>(Power)
  </span>
);

export default function App() {
  return (
    <div style={{ position: 'absolute', left: 0, top: 0, width: 3570, height: 2422, background: '#fff', overflow: 'hidden' }}>
      {COL_X.map((x, i) => (
        <Panel key={`emg-${i}`} rows={EMG_ROWS[i]} left={x} top={ROW_TOP.y} plotH={ROW_TOP.h}
          xDomain={[0, 1.5]} xTicks={TIME_TICKS} yDomain={[0, 5]} yTicks={AMP_TICKS}
          title={EMG_TITLES[i]} xLabel="Time(s)" yLabel="Amplitude(mV)" yLabelGap={93} />
      ))}
      {COL_X.map((x, i) => (
        <Panel key={`psd-${i}`} rows={PSD_ROWS[i]} left={x} top={ROW_BOT.y} plotH={ROW_BOT.h}
          xDomain={[0, 200]} xTicks={FREQ_TICKS} yDomain={[-10, 1]} yTicks={POWER_TICKS}
          title="Power spectrum" xLabel="Frequency (Hz)" yLabel={logPowerLabel} yLabelGap={108} />
      ))}
      {COL_X.map((x, i) => (
        <div key={`tag-${i}`} style={{
          position: 'absolute', left: x + 402, top: 2360, transform: 'translate(-50%, -50%)',
          fontFamily: '"Liberation Serif", "Times New Roman", serif', fontSize: 80, lineHeight: 1, color: '#000', whiteSpace: 'nowrap',
        }}>
          (<b>{PANEL_LETTERS[i]}</b>)
        </div>
      ))}
    </div>
  );
}
